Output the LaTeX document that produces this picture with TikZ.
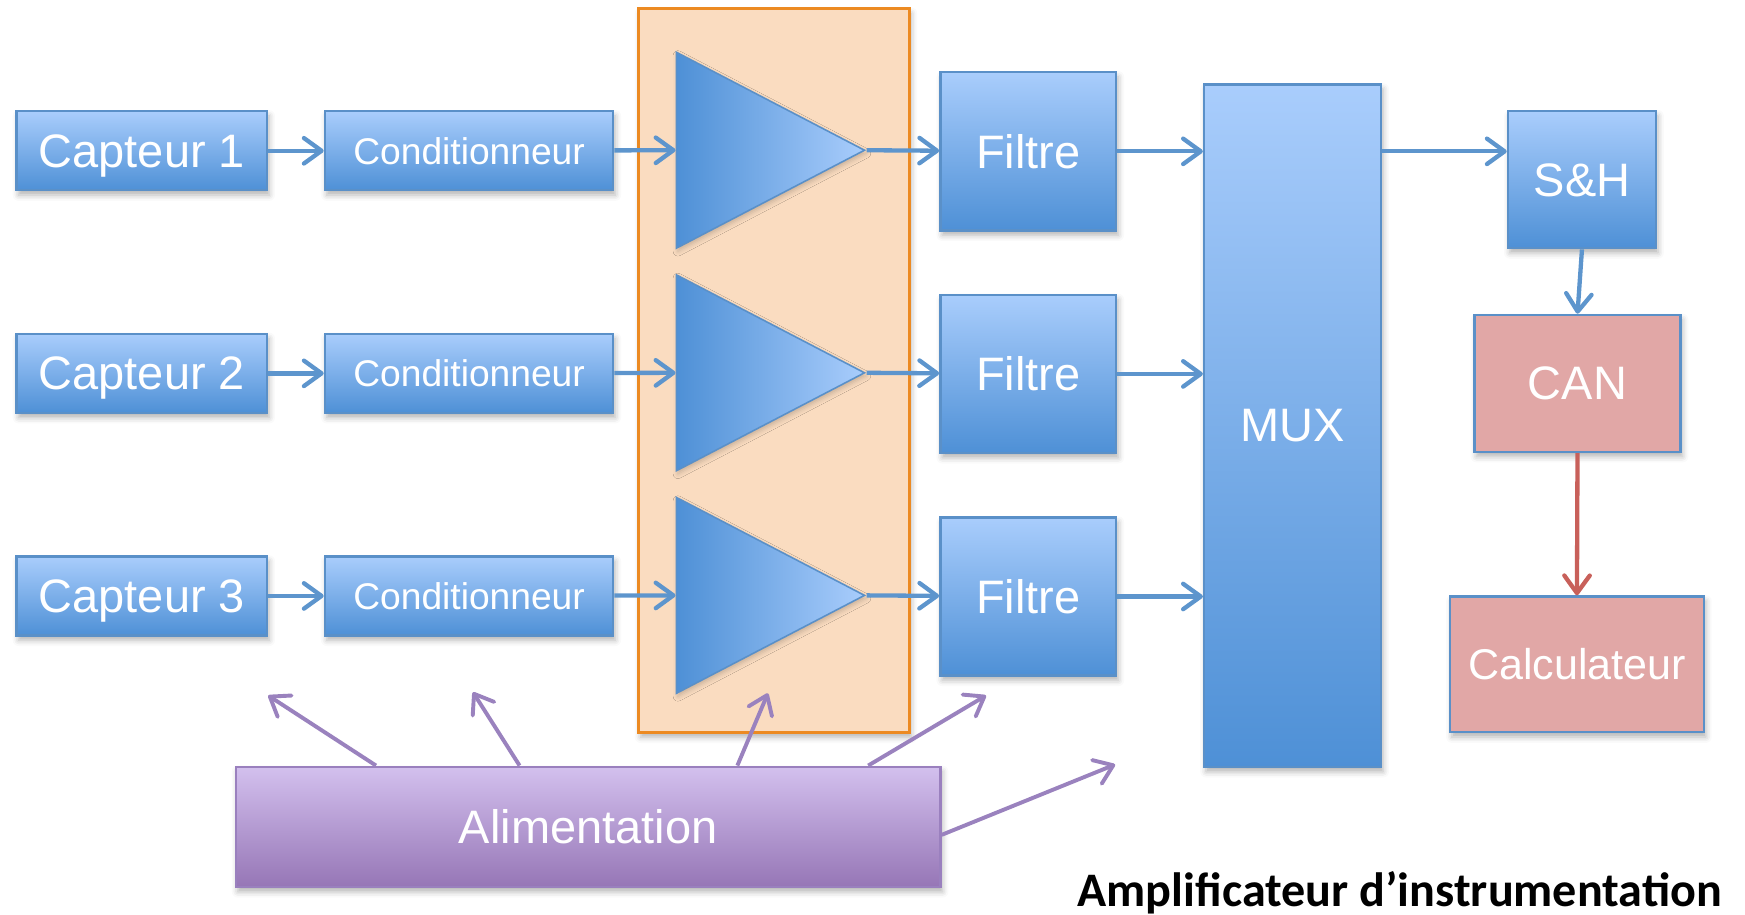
\documentclass[tikz,border=0pt]{standalone}
\usepackage{fontspec}
\setmainfont{Liberation Sans}
\newfontfamily\titlefont{Carlito}
\usetikzlibrary{positioning,calc,shapes.geometric,arrows.meta,shadows.blur}

\definecolor{boxtop}{HTML}{A9CDFC}
\definecolor{boxbottom}{HTML}{4E90D6}
\definecolor{boxline}{HTML}{5A90C8}
\definecolor{gainfill}{HTML}{FADCC0}
\definecolor{gainline}{HTML}{EC8A22}
\definecolor{canfill}{HTML}{E1A7A6}
\definecolor{powertop}{HTML}{D3C0EE}
\definecolor{powerbottom}{HTML}{9676B6}
\definecolor{powerline}{HTML}{9A80BE}
\definecolor{flow}{HTML}{5D95CD}
\definecolor{powerflow}{HTML}{9A82BE}
\definecolor{canflow}{HTML}{C8605A}

\tikzset{
  soft shadow/.style={blur shadow={shadow xshift=0.5pt,shadow yshift=-1.2pt,
      shadow blur radius=1.5pt,shadow opacity=30}},
  block/.style={
    draw=boxline,line width=0.6pt,inner sep=0pt,text depth=0pt,
    top color=boxtop,bottom color=boxbottom,
    text=white,font=\fontsize{12}{14}\selectfont,soft shadow,
  },
  % the triangle's height runs along its axis, its width across it
  amp/.style={
    isosceles triangle,isosceles triangle stretches,anchor=west,
    minimum width=1.76cm,minimum height=1.69cm,inner sep=0pt,
    draw=boxline,line width=0.4pt,left color=boxbottom,right color=boxtop,
    blur shadow={shadow xshift=0.4pt,shadow yshift=-0.8pt,
      shadow blur radius=1.2pt,shadow opacity=20},
  },
}

\begin{document}
\begin{tikzpicture}[x=0.01cm,y=-0.01cm]
  \useasboundingbox (0,0) rectangle (1568,822);
  \node[draw=gainline,fill=gainfill,line width=0.7pt,inner sep=0pt,
    minimum width=2.43cm,minimum height=6.5cm,soft shadow](gain) at (695.5,333){};
  \begin{scope}[every node/.style={block,minimum width=2.25cm,minimum height=0.71cm}]
    \path (127.5,135.5) node(capt1){Capteur 1}
    ++(0,200) node(capt2){Capteur 2}
    ++(0,200) node(capt3){Capteur 3};
  \end{scope}
  \begin{scope}[every node/.style={block,minimum width=2.59cm,minimum height=0.71cm,
      font=\fontsize{9.5}{11}\selectfont}]
    \path (421.5,135.5) node(cond1){Conditionneur}
    ++(0,200) node(cond2){Conditionneur}
    ++(0,200) node(cond3){Conditionneur};
  \end{scope}
  \path (607,135) node[amp](amp1){}
  ++(0,200) node[amp](amp2){}
  ++(0,200) node[amp](amp3){};
  \begin{scope}[every node/.style={block,minimum width=1.58cm,minimum height=1.42cm}]
    \path (924,136) node(filt1){Filtre}
    ++(0,200) node(filt2){Filtre}
    ++(0,200) node(filt3){Filtre};
  \end{scope}
  \node[block,minimum width=1.59cm,minimum height=6.13cm](mux) at (1161.5,382.5){MUX};
  \node[block,minimum width=1.33cm,minimum height=1.23cm](sh) at (1421.5,161.5){S\&H};
  \begin{scope}[every node/.style={block,fill=canfill,top color=canfill,bottom color=canfill}]
    \node[minimum width=1.85cm,minimum height=1.23cm](can) at (1417.5,344.5){CAN};
    \node[minimum width=2.28cm,minimum height=1.22cm,font=\fontsize{11}{13}\selectfont]
      (calc) at (1417,597){Calculateur};
  \end{scope}
  \node[block,draw=powerline,top color=powertop,bottom color=powerbottom,
    minimum width=6.33cm,minimum height=1.08cm](alim) at (528.5,743){Alimentation};
  \node[anchor=base east,inner sep=0pt,font=\titlefont\bfseries\fontsize{12.3}{14}\selectfont]
    (title) at (1548,815){Amplificateur d’instrumentation};

  \coordinate(to-capt) at (241,625);
  \coordinate(to-cond) at (425,622);
  \coordinate(to-gain) at (690,623);
  \coordinate(to-filt) at (886,625);
  \coordinate(to-mux) at (1002,687);
  \begin{scope}[
    every edge/.style={draw=flow,line width=1.1pt,->},
    >={Straight Barb[length=4.5pt,width=6.5pt,round]},
    ]
    \path
    (capt1) edge (cond1) (capt2) edge (cond2) (capt3) edge (cond3)
    (cond1) edge (amp1.west) (cond2) edge (amp2.west) (cond3) edge (amp3.west)
    (amp1.apex) edge (filt1) (amp2.apex) edge (filt2) (amp3.apex) edge (filt3)
    (filt1) edge (filt1.east -| mux.west)
    (filt2) edge (filt2.east -| mux.west)
    (filt3) edge (filt3.east -| mux.west)
    (mux.east |- filt1.east) edge (sh.west |- filt1.east)
    (sh.south) edge (can.north)
    (can.south) edge[draw=canflow] (calc.north);
    \path[every edge/.append style={draw=powerflow,line width=1pt}]
    ($(alim.north west)!.2!(alim.north east)$) edge (to-capt)
    ($(alim.north west)!.403!(alim.north east)$) edge (to-cond)
    ($(alim.north west)!.711!(alim.north east)$) edge (to-gain)
    ($(alim.north west)!.896!(alim.north east)$) edge (to-filt)
    ($(alim.north east)!.565!(alim.south east)$) edge (to-mux);
  \end{scope}
\end{tikzpicture}
\end{document}
